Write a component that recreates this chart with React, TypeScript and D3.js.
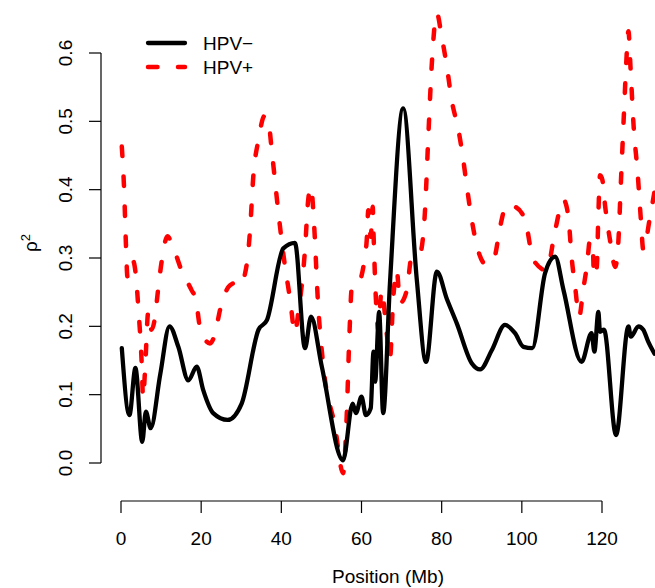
import * as d3 from "d3";
import React from "react";

// positions (Mb) and rho^2 values
const negPos = [0.2, 2.1, 3.6, 5.3, 6.2, 7.4, 9.8, 12.1, 14.3, 16.8, 18.9, 20.5, 23.0, 26.6, 30.1, 34.3, 36.4, 40.5, 43.4, 45.9, 47.4, 50.1, 55.4, 57.8, 58.6, 60.0, 61.1, 62.3, 63.0, 63.4, 64.4, 65.4, 67.1, 70.4, 73.8, 76.1, 78.8, 81.3, 83.8, 87.5, 89.6, 92.5, 95.8, 98.3, 100.4, 102.6, 105.8, 108.3, 110.4, 114.9, 117.4, 118.1, 119.1, 119.5, 120.5, 123.5, 126.6, 127.2, 129.1, 130.3, 131.5, 133.1];
const negVal = [0.168, 0.070, 0.139, 0.031, 0.075, 0.051, 0.130, 0.200, 0.170, 0.121, 0.141, 0.107, 0.073, 0.063, 0.087, 0.195, 0.209, 0.314, 0.322, 0.168, 0.214, 0.141, 0.004, 0.087, 0.073, 0.097, 0.070, 0.080, 0.163, 0.119, 0.221, 0.073, 0.263, 0.519, 0.268, 0.148, 0.280, 0.240, 0.204, 0.146, 0.137, 0.165, 0.202, 0.190, 0.170, 0.168, 0.278, 0.302, 0.253, 0.148, 0.190, 0.163, 0.221, 0.192, 0.195, 0.041, 0.200, 0.185, 0.200, 0.195, 0.178, 0.160];

const posPos = [0.2, 0.75, 1.25, 1.6, 2.9, 3.7, 4.3, 5.2, 5.5, 6.0, 6.8, 7.6, 8.5, 9.2, 10.2, 11.6, 12.6, 15.1, 17.6, 18.7, 19.7, 22.2, 23.5, 24.7, 27.2, 28.9, 29.7, 31.4, 32.2, 33.0, 34.3, 35.8, 36.8, 37.6, 39.2, 40.7, 42.2, 43.4, 44.2, 45.9, 46.7, 47.4, 48.2, 49.1, 50.5, 53.4, 55.4, 56.3, 57.0, 57.6, 59.2, 60.6, 61.3, 61.7, 62.3, 62.8, 63.0, 63.6, 64.2, 65.0, 66.3, 67.1, 67.9, 68.8, 69.6, 71.3, 72.5, 74.6, 75.8, 76.7, 77.5, 78.8, 80.0, 81.3, 82.5, 84.2, 85.4, 86.3, 87.5, 89.2, 91.2, 93.1, 94.6, 96.2, 98.3, 100.8, 102.9, 106.2, 108.3, 110.4, 111.6, 112.4, 113.3, 114.3, 115.3, 116.3, 117.0, 117.7, 118.0, 118.7, 119.1, 119.5, 120.1, 120.8, 122.0, 123.3, 124.1, 124.7, 125.4, 126.0, 126.6, 127.1, 127.9, 128.9, 129.7, 130.3, 132.0, 133.3];
const posVal = [0.463, 0.404, 0.317, 0.273, 0.297, 0.275, 0.229, 0.141, 0.095, 0.136, 0.221, 0.195, 0.214, 0.251, 0.297, 0.332, 0.322, 0.282, 0.253, 0.239, 0.199, 0.175, 0.190, 0.224, 0.260, 0.264, 0.260, 0.292, 0.341, 0.419, 0.473, 0.508, 0.499, 0.458, 0.370, 0.297, 0.239, 0.190, 0.219, 0.312, 0.385, 0.404, 0.346, 0.239, 0.141, 0.053, -0.015, 0.068, 0.190, 0.258, 0.263, 0.292, 0.326, 0.370, 0.331, 0.375, 0.336, 0.239, 0.195, 0.253, 0.190, 0.153, 0.239, 0.282, 0.234, 0.253, 0.302, 0.307, 0.365, 0.482, 0.580, 0.658, 0.624, 0.580, 0.531, 0.487, 0.443, 0.404, 0.356, 0.309, 0.290, 0.300, 0.346, 0.378, 0.375, 0.356, 0.297, 0.282, 0.340, 0.385, 0.361, 0.302, 0.258, 0.214, 0.253, 0.292, 0.326, 0.317, 0.273, 0.287, 0.365, 0.421, 0.414, 0.375, 0.326, 0.287, 0.326, 0.409, 0.502, 0.580, 0.632, 0.580, 0.492, 0.424, 0.356, 0.312, 0.361, 0.404];

const xTicks = [0, 20, 40, 60, 80, 100, 120];
const yTicks = [0, 0.1, 0.2, 0.3, 0.4, 0.5, 0.6];
const seriesNames = ["HPV\u2212", "HPV+"];

const width = 655;
const height = 588;
const font = "'Liberation Sans', Arial, Helvetica, sans-serif";
const fs = 19;

export default function App() {
  const x = d3.scaleLinear().domain([0, 120]).range([121, 602]);
  const y = d3.scaleLinear().domain([0, 0.6]).range([463, 53]);
  const axisY = 501; // x axis line
  const axisX = 101; // y axis line

  const line = d3
    .line<[number, number]>()
    .x((d) => x(d[0]))
    .y((d) => y(d[1]))
    .curve(d3.curveMonotoneX);

  const negPath = line(negPos.map((p, i) => [p, negVal[i]]));
  const posPath = line(posPos.map((p, i) => [p, posVal[i]]));

  const dash = "9.5 20.5";

  return (
    <svg
      width={width}
      height={height}
      style={{ position: "absolute", left: 0, top: 0, background: "#fff" }}
      fontFamily={font}
    >
      <rect width={width} height={height} fill="#fff" />

      {/* lines */}
      <path d={posPath || ""} fill="none" stroke="#ff0000" strokeWidth={4.5} strokeDasharray={dash} strokeLinecap="round" strokeLinejoin="round" />
      <path d={negPath || ""} fill="none" stroke="#000" strokeWidth={4.3} strokeLinecap="round" strokeLinejoin="round" />

      {/* x axis */}
      <g>
        <line x1={x(0)} x2={x(120)} y1={axisY} y2={axisY} stroke="#000" strokeWidth={1.2} />
        {xTicks.map((t) => (
          <g key={t}>
            <line x1={x(t)} x2={x(t)} y1={axisY} y2={axisY + 12} stroke="#000" strokeWidth={1.2} />
            <text x={x(t)} y={545} textAnchor="middle" fontSize={fs}>{t}</text>
          </g>
        ))}
        <text x={388} y={583} textAnchor="middle" fontSize={fs}>Position (Mb)</text>
      </g>

      {/* y axis */}
      <g>
        <line x1={axisX} x2={axisX} y1={y(0)} y2={y(0.6)} stroke="#000" strokeWidth={1.2} />
        {yTicks.map((t) => (
          <g key={t}>
            <line x1={axisX - 12} x2={axisX} y1={y(t)} y2={y(t)} stroke="#000" strokeWidth={1.2} />
            <text transform={`translate(72,${y(t)}) rotate(-90)`} textAnchor="middle" fontSize={fs}>{t.toFixed(1)}</text>
          </g>
        ))}
        <text transform={`translate(37,243) rotate(-90)`} textAnchor="middle" fontSize={fs}>
          ρ<tspan dy={-7} fontSize={13}>2</tspan>
        </text>
      </g>

      {/* legend */}
      <g>
        <line x1={148} x2={185} y1={43} y2={43} stroke="#000" strokeWidth={4.3} strokeLinecap="round" />
        <text x={203} y={50} fontSize={fs}>{seriesNames[0]}</text>
        <line x1={148} x2={185} y1={67} y2={67} stroke="#ff0000" strokeWidth={4.5} strokeDasharray={dash} strokeLinecap="round" />
        <text x={203} y={74} fontSize={fs}>{seriesNames[1]}</text>
      </g>
    </svg>
  );
}
